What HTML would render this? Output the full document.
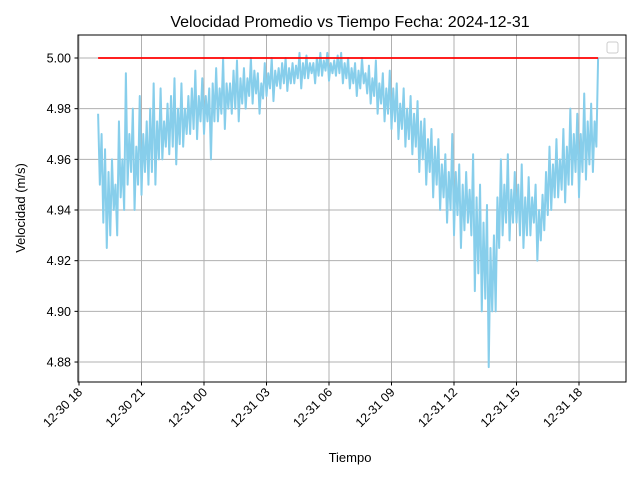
<!DOCTYPE html>
<html><head><meta charset="utf-8"><style>
body{margin:0;background:#fff}
svg{font-family:"Liberation Sans","DejaVu Sans",sans-serif}
</style></head><body>
<svg id="chart" width="640" height="480" xmlns="http://www.w3.org/2000/svg">
<rect width="640" height="480" fill="#fff"/>
<g id="grid"></g>
<g id="series"></g>
<rect x="78" y="35" width="548" height="347" fill="none" stroke="#000" stroke-width="1"/>
<g id="axes"></g>
<text x="350" y="27" font-size="16" text-anchor="middle">Velocidad Promedio vs Tiempo Fecha: 2024-12-31</text>
<text x="350" y="462" font-size="13" text-anchor="middle">Tiempo</text>
<text x="25" y="208" font-size="13" text-anchor="middle" transform="rotate(-90 25 208)">Velocidad (m/s)</text>
<rect x="607" y="42" width="11" height="11" rx="2" fill="#fff" stroke="#ccc"/>
</svg>
<script>
const yTicks=[4.88,4.90,4.92,4.94,4.96,4.98,5.00];
const yTickLabels=["4.88","4.90","4.92","4.94","4.96","4.98","5.00"];
const xTickHours=[0,3,6,9,12,15,18,21,24];
const xTickLabels=["12-30 18","12-30 21","12-31 00","12-31 03","12-31 06","12-31 09","12-31 12","12-31 15","12-31 18"];
const startHour=0.917; // hours after 12-30 18:00
const stepHours=1/12;
const refValue=5.0;
const velocity=[
4.978,4.950,4.970,4.935,4.964,4.925,4.955,4.930,4.960,4.940,4.950,4.930,
4.975,4.945,4.960,4.940,4.994,4.950,4.970,4.955,4.980,4.940,4.965,4.950,
4.985,4.946,4.970,4.955,4.975,4.950,4.980,4.955,4.990,4.950,4.975,4.960,
4.988,4.960,4.975,4.965,4.982,4.962,4.985,4.965,4.992,4.958,4.980,4.966,
4.990,4.965,4.980,4.970,4.985,4.970,4.988,4.972,4.995,4.968,4.985,4.975,
4.992,4.970,4.985,4.975,4.988,4.960,4.990,4.975,4.996,4.975,4.988,4.978,
5.000,4.972,4.990,4.980,4.990,4.978,4.995,4.980,4.999,4.975,4.992,4.982,
4.996,4.980,4.992,4.985,5.000,4.982,4.995,4.986,4.994,4.978,4.990,4.984,
4.998,4.985,4.994,4.988,5.000,4.983,4.995,4.989,4.996,4.988,4.998,4.990,
5.000,4.987,4.996,4.990,4.998,4.990,4.997,4.992,5.002,4.988,4.998,4.992,
5.001,4.992,4.998,4.994,4.998,4.990,5.000,4.993,5.002,4.993,4.999,4.995,
5.002,4.991,4.998,4.994,4.999,4.993,5.001,4.994,5.002,4.990,4.998,4.992,
5.000,4.988,4.996,4.990,4.998,4.985,4.995,4.988,5.000,4.990,4.994,4.986,
4.997,4.982,4.992,4.985,4.999,4.978,4.990,4.982,4.994,4.975,4.988,4.978,
4.995,4.972,4.988,4.975,4.990,4.968,4.982,4.972,4.988,4.965,4.980,4.968,
4.985,4.962,4.978,4.965,4.983,4.955,4.975,4.960,4.976,4.950,4.968,4.955,
4.972,4.945,4.965,4.950,4.968,4.940,4.958,4.945,4.962,4.935,4.955,4.940,
4.970,4.930,4.955,4.938,4.958,4.925,4.950,4.932,4.955,4.935,4.948,4.930,
4.962,4.908,4.945,4.915,4.950,4.900,4.935,4.905,4.942,4.878,4.925,4.900,
4.930,4.900,4.945,4.925,4.960,4.930,4.950,4.935,4.962,4.928,4.948,4.935,
4.955,4.935,4.950,4.930,4.958,4.925,4.945,4.930,4.953,4.930,4.945,4.935,
4.950,4.920,4.940,4.928,4.946,4.932,4.955,4.938,4.965,4.940,4.958,4.945,
4.968,4.945,4.960,4.948,4.972,4.943,4.965,4.950,4.980,4.950,4.970,4.955,
4.978,4.945,4.970,4.955,4.986,4.952,4.975,4.958,4.982,4.955,4.975,4.965,
5.000];
const NS="http://www.w3.org/2000/svg";
const X=h=>79+h*62.5/3;
const Y=v=>58+(5.0-v)*2533.5;
function mk(tag,attrs,parent){const e=document.createElementNS(NS,tag);for(const k in attrs)e.setAttribute(k,attrs[k]);parent.appendChild(e);return e;}
const grid=document.getElementById('grid'),axes=document.getElementById('axes'),series=document.getElementById('series');
yTicks.forEach((v,i)=>{
 const g=mk('line',{x1:78,x2:626,y1:Y(v),y2:Y(v),stroke:'#b0b0b0','stroke-width':1},grid);
 
 
 mk('line',{x1:74.5,x2:78,y1:Y(v),y2:Y(v),stroke:'#000'},axes);
 const t=mk('text',{x:71,y:Y(v)+4.5,'font-size':12.5,'text-anchor':'end'},axes);
 t.textContent=yTickLabels[i];
 
 
});
xTickHours.forEach((h,i)=>{
 const g=mk('line',{x1:X(h),x2:X(h),y1:35,y2:382,stroke:'#b0b0b0','stroke-width':1},grid);
 
 
 mk('line',{x1:X(h),x2:X(h),y1:382,y2:385.5,stroke:'#000'},axes);
 const tx=X(h)+4,ty=393;
 const t=mk('text',{x:tx,y:ty,'font-size':12.5,'text-anchor':'end',transform:`rotate(-45 ${tx} ${ty})`},axes);
 t.textContent=xTickLabels[i];
 
 
});
const pts=velocity.map((v,i)=>X(startHour+i*stepHours).toFixed(2)+','+Y(v).toFixed(2)).join(' ');
const pl=mk('polyline',{points:pts,fill:'none',stroke:'#87ceeb','stroke-width':2,'stroke-linejoin':'round'},series);


const endH=startHour+(velocity.length-1)*stepHours;
const rl=mk('line',{x1:X(startHour),x2:X(endH),y1:Y(refValue),y2:Y(refValue),stroke:'#ff0000','stroke-width':1.8},series);


</script>
</body></html>
